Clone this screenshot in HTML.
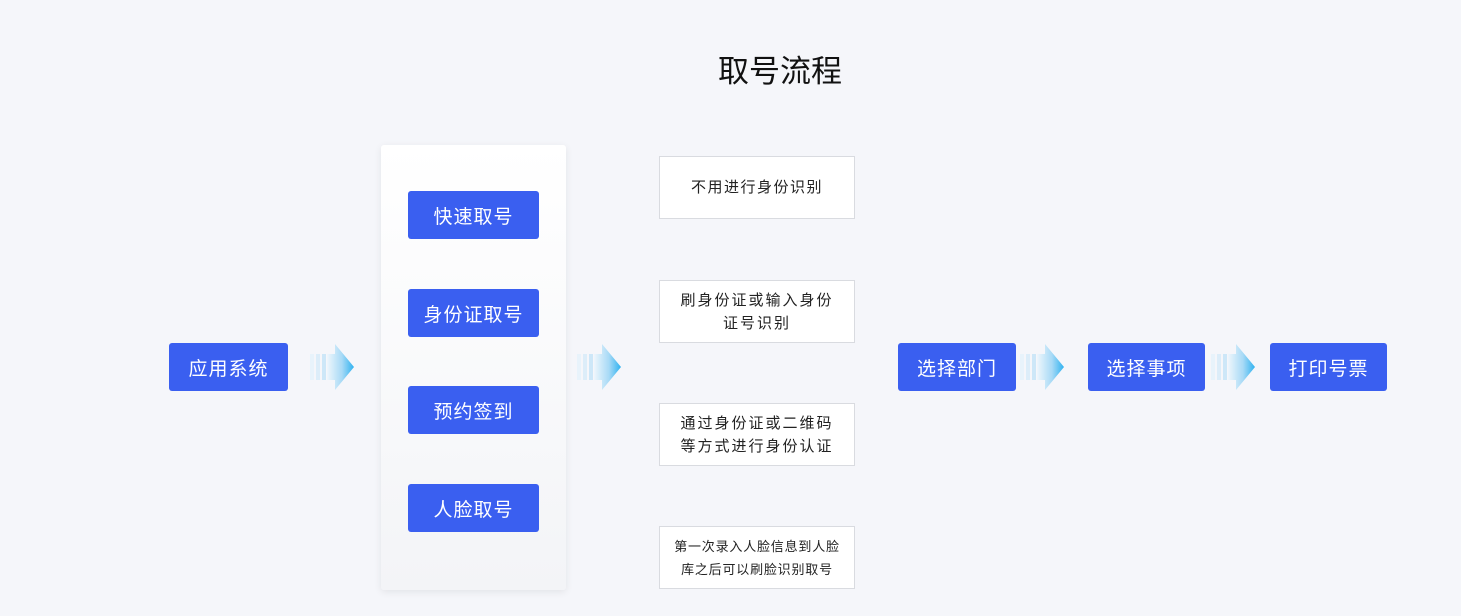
<!DOCTYPE html>
<html><head><meta charset="utf-8"><style>
*{margin:0;padding:0;box-sizing:border-box}
body{width:1461px;height:616px;background:#f5f6fa;position:relative;overflow:hidden;font-family:"Liberation Sans","Noto Sans CJK SC",sans-serif}
.t{position:absolute;left:718px;width:124px;top:46px;text-align:center;font-size:31px;color:#111;white-space:nowrap}
.b{position:absolute;background:#3a5ff0;color:#fff;border-radius:3px;display:flex;align-items:center;justify-content:center;font-size:19px;letter-spacing:1px;height:48px}
.panel{position:absolute;left:381px;top:145px;width:185px;height:445px;background:linear-gradient(#ffffff,#f3f4f7);border-radius:3px;box-shadow:0 2px 8px rgba(0,0,0,0.08)}
.w{position:absolute;left:659px;width:196px;height:63px;background:#fff;border:1px solid #d9dbe0;display:flex;align-items:center;justify-content:center;text-align:center;font-size:15px;color:#222;line-height:23px;letter-spacing:2px}
svg{position:absolute}
</style></head><body>
<div class="t">取号流程</div>
<div class="b" style="left:169px;top:343px;width:119px">应用系统</div>
<div class="panel"></div>
<div class="b" style="left:408px;top:191px;width:131px">快速取号</div>
<div class="b" style="left:408px;top:289px;width:131px">身份证取号</div>
<div class="b" style="left:408px;top:386px;width:131px">预约签到</div>
<div class="b" style="left:408px;top:484px;width:131px">人脸取号</div>
<div class="w" style="top:156px;letter-spacing:1.5px">不用进行身份识别</div>
<div class="w" style="top:280px">刷身份证或输入身份<br>证号识别</div>
<div class="w" style="top:403px">通过身份证或二维码<br>等方式进行身份认证</div>
<div class="w" style="top:526px;font-size:13px;letter-spacing:0.8px">第一次录入人脸信息到人脸<br>库之后可以刷脸识别取号</div>
<div class="b" style="left:898px;top:343px;width:118px">选择部门</div>
<div class="b" style="left:1088px;top:343px;width:117px">选择事项</div>
<div class="b" style="left:1270px;top:343px;width:117px">打印号票</div>
<svg width="0" height="0"><defs><linearGradient id="g" x1="0" x2="1"><stop offset="0" stop-color="#eef6fc"/><stop offset="0.55" stop-color="#a8daf6"/><stop offset="1" stop-color="#2fb2f0"/></linearGradient>
<symbol id="a" viewBox="0 0 44 46"><rect x="0" y="10" width="4" height="26" fill="#e8f3fb"/><rect x="6" y="10" width="4" height="26" fill="#dcedf9"/><rect x="12" y="10" width="4" height="26" fill="#cde7f8"/><path d="M17 10H25V0L44 23L25 46V36H17Z" fill="url(#g)"/></symbol></defs></svg>
<svg style="left:310px;top:344px" width="44" height="46"><use href="#a"/></svg>
<svg style="left:577px;top:344px" width="44" height="46"><use href="#a"/></svg>
<svg style="left:1020px;top:344px" width="44" height="46"><use href="#a"/></svg>
<svg style="left:1211px;top:344px" width="44" height="46"><use href="#a"/></svg>
</body></html>
